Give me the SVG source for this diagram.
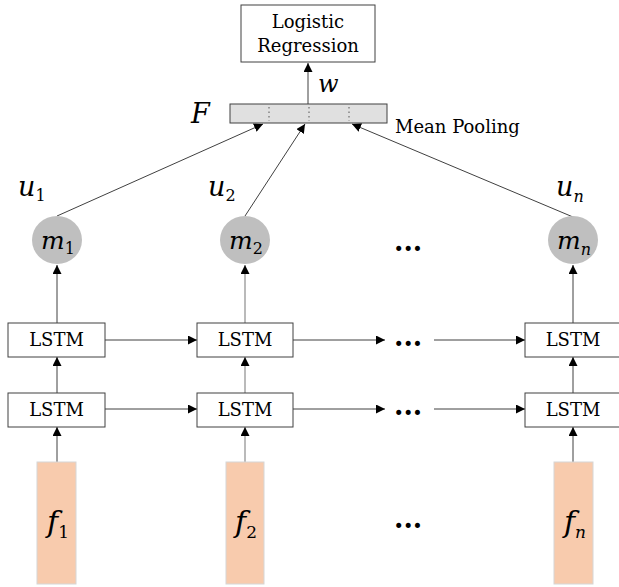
<svg xmlns="http://www.w3.org/2000/svg" width="619" height="587" viewBox="0 0 619 587">
<style>
text{font-family:"DejaVu Serif",serif}
.box{fill:#fff;stroke:#404040;stroke-width:1}
.t{font-size:18px;fill:#000;text-anchor:middle}
.m{font-style:italic;fill:#000}
.c{text-anchor:middle}
.sub{font-style:normal;fill:#000}
.ln{stroke:#404040;stroke-width:1;fill:none}
.lg{stroke:#8c8c8c;stroke-width:1.2;fill:none}
.circ{fill:#bfbfbf}
.f{fill:#f8cbad;stroke:#d6d6d6;stroke-width:1}
.dots{font-weight:bold;font-size:27px;fill:#000}
</style>
<defs>
<marker id="ah" viewBox="0 0 10 10" refX="10" refY="5" markerWidth="9" markerHeight="9" markerUnits="userSpaceOnUse" orient="auto">
<path d="M0,0 L10,5 L0,10 z" fill="#000"/>
</marker>
</defs>

<g id="connectors">
<line class="ln" x1="308" y1="104" x2="308" y2="63" marker-end="url(#ah)"/>
<line class="ln" x1="57" y1="216" x2="263" y2="124" marker-end="url(#ah)"/>
<line class="ln" x1="245" y1="216" x2="305" y2="124" marker-end="url(#ah)"/>
<line class="ln" x1="573" y1="217" x2="352" y2="124" marker-end="url(#ah)"/>
<line class="ln" x1="57" y1="323" x2="57" y2="265" marker-end="url(#ah)"/>
<line class="lg" x1="245" y1="323" x2="245" y2="265" marker-end="url(#ah)"/>
<line class="ln" x1="573" y1="323" x2="573" y2="265" marker-end="url(#ah)"/>
<line class="ln" x1="57" y1="393" x2="57" y2="357" marker-end="url(#ah)"/>
<line class="lg" x1="245" y1="393" x2="245" y2="357" marker-end="url(#ah)"/>
<line class="ln" x1="573" y1="393" x2="573" y2="357" marker-end="url(#ah)"/>
<line class="ln" x1="57" y1="462" x2="57" y2="427" marker-end="url(#ah)"/>
<line class="lg" x1="245" y1="462" x2="245" y2="427" marker-end="url(#ah)"/>
<line class="ln" x1="573" y1="462" x2="573" y2="427" marker-end="url(#ah)"/>
<line class="ln" x1="105" y1="340" x2="197" y2="340" marker-end="url(#ah)"/>
<line class="ln" x1="293" y1="340" x2="385" y2="340" marker-end="url(#ah)"/>
<line class="ln" x1="434" y1="340" x2="525" y2="340" marker-end="url(#ah)"/>
<line class="ln" x1="105" y1="409" x2="197" y2="409" marker-end="url(#ah)"/>
<line class="ln" x1="293" y1="409" x2="385" y2="409" marker-end="url(#ah)"/>
<line class="ln" x1="434" y1="409" x2="525" y2="409" marker-end="url(#ah)"/>
</g>

<g id="logistic">
<rect class="box" x="241" y="5" width="134" height="57"/>
<text class="t" x="308" y="28">Logistic</text>
<text class="t" x="308" y="52">Regression</text>
</g>

<g id="pooling">
<rect x="230" y="104" width="157" height="19" fill="#e0e0e0" stroke="#404040" stroke-width="1"/>
<line x1="269" y1="107" x2="269" y2="121" stroke="#555" stroke-width="1" stroke-dasharray="1.5,3"/>
<line x1="309" y1="107" x2="309" y2="121" stroke="#555" stroke-width="1" stroke-dasharray="1.5,3"/>
<line x1="349" y1="107" x2="349" y2="121" stroke="#555" stroke-width="1" stroke-dasharray="1.5,3"/>
<text class="m" x="191" y="123" font-size="27">F</text>
<text class="m" x="318" y="92" font-size="24">w</text>
<text x="395" y="133" font-size="18" fill="#000">Mean Pooling</text>
</g>

<g id="m1">
<ellipse class="circ" cx="57" cy="240" rx="25" ry="24"/>
<text class="m c" x="58" y="249" font-size="25">m<tspan class="sub" font-size="16" dy="5">1</tspan></text>
<text class="m" x="18" y="196" font-size="27">u<tspan class="sub" font-size="16" dy="5">1</tspan></text>
</g>
<g id="m2">
<ellipse class="circ" cx="245" cy="240" rx="25" ry="24"/>
<text class="m c" x="246" y="249" font-size="25">m<tspan class="sub" font-size="16" dy="5">2</tspan></text>
<text class="m" x="208" y="196" font-size="27">u<tspan class="sub" font-size="16" dy="5">2</tspan></text>
</g>
<g id="mn">
<ellipse class="circ" cx="573" cy="240" rx="25" ry="24"/>
<text class="m c" x="574" y="249" font-size="25">m<tspan class="m" font-size="16" dy="6">n</tspan></text>
<text class="m" x="556" y="196" font-size="27">u<tspan class="m" font-size="16" dy="6">n</tspan></text>
</g>

<g id="lstm-top-1"><rect class="box" x="8" y="323" width="97" height="34"/><text class="t" x="56.5" y="346">LSTM</text></g>
<g id="lstm-top-2"><rect class="box" x="197" y="323" width="96" height="34"/><text class="t" x="245" y="346">LSTM</text></g>
<g id="lstm-top-n"><rect class="box" x="525" y="323" width="96" height="34"/><text class="t" x="573" y="346">LSTM</text></g>
<g id="lstm-bot-1"><rect class="box" x="8" y="393" width="97" height="34"/><text class="t" x="56.5" y="416">LSTM</text></g>
<g id="lstm-bot-2"><rect class="box" x="197" y="393" width="96" height="34"/><text class="t" x="245" y="416">LSTM</text></g>
<g id="lstm-bot-n"><rect class="box" x="525" y="393" width="96" height="34"/><text class="t" x="573" y="416">LSTM</text></g>

<g id="f1"><rect class="f" x="37" y="462" width="39" height="122"/><text class="m c" x="58" y="532" font-size="30">f<tspan class="sub" font-size="17" dy="6">1</tspan></text></g>
<g id="f2"><rect class="f" x="226" y="462" width="38" height="122"/><text class="m c" x="246" y="532" font-size="30">f<tspan class="sub" font-size="17" dy="6">2</tspan></text></g>
<g id="fn"><rect class="f" x="554" y="462" width="39" height="122"/><text class="m c" x="575" y="532" font-size="30">f<tspan class="m" font-size="17" dy="6">n</tspan></text></g>

<g id="ellipses">
<text class="dots" x="394" y="251">...</text>
<text class="dots" x="394" y="346">...</text>
<text class="dots" x="394" y="415">...</text>
<text class="dots" x="394" y="528">...</text>
</g>
</svg>
